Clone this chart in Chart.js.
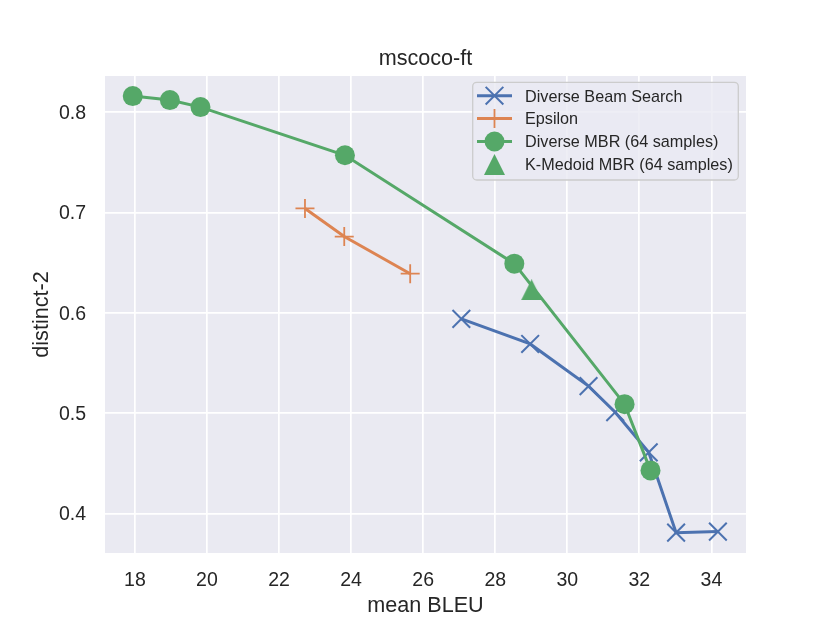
<!DOCTYPE html>
<html><head><meta charset="utf-8">
<script src="https://cdn.jsdelivr.net/npm/chart.js@4.4.1/dist/chart.umd.min.js"></script>
<style>html,body{margin:0;padding:0;background:#fff;}canvas{display:block;}</style>
</head><body>
<canvas id="c" width="830" height="623"></canvas>
<script>
// ---- data ----
const chartTitle = 'mscoco-ft';
const xLabel = 'mean BLEU';
const yLabel = 'distinct-2';
const xTicks = [18, 20, 22, 24, 26, 28, 30, 32, 34];
const yTicks = [0.4, 0.5, 0.6, 0.7, 0.8];
const seriesNames = ['Diverse Beam Search', 'Epsilon', 'Diverse MBR (64 samples)', 'K-Medoid MBR (64 samples)'];
const dbsBleu = [27.06, 28.97, 30.59, 31.33, 32.26, 33.02, 34.18];
const dbsDistinct = [0.594, 0.569, 0.527, 0.501, 0.461, 0.381, 0.382];
const epsBleu = [22.72, 23.81, 25.64];
const epsDistinct = [0.704, 0.676, 0.639];
const mbrBleu = [17.94, 18.97, 19.82, 23.83, 28.53, 31.59, 32.31];
const mbrDistinct = [0.816, 0.812, 0.805, 0.757, 0.649, 0.509, 0.443];
const kmBleu = [29.01];
const kmDistinct = [0.623];
const xRange = [17.17, 34.96];
const yRange = [0.3607, 0.836];

// ---- styles ----
const C_BLUE = '#4C72B0', C_ORANGE = '#DD8452', C_GREEN = '#55A868';
const TEXT = '#262626';
const FONT = '"Liberation Sans", Arial, Helvetica, sans-serif';

function triImg(size, color) {
  const c = document.createElement('canvas');
  c.width = size; c.height = size;
  const g = c.getContext('2d');
  g.fillStyle = color;
  g.beginPath(); g.moveTo(size / 2, 0); g.lineTo(size, size); g.lineTo(0, size); g.closePath(); g.fill();
  return c;
}
const tri = triImg(21, C_GREEN);

const pts = (xs, ys) => xs.map((x, i) => ({ x: x, y: ys[i] }));

const styles = [
  { color: C_BLUE, pointStyle: 'crossRot', radius: 12.5, pbw: 2, line: true },
  { color: C_ORANGE, pointStyle: 'cross', radius: 9.5, pbw: 1.8, line: true },
  { color: C_GREEN, pointStyle: 'circle', radius: 10, pbw: 0, line: true },
  { color: C_GREEN, pointStyle: tri, radius: 10, pbw: 0, line: false }
];
const dataPairs = [[dbsBleu, dbsDistinct], [epsBleu, epsDistinct], [mbrBleu, mbrDistinct], [kmBleu, kmDistinct]];

const datasets = dataPairs.map((p, i) => ({
  label: seriesNames[i],
  data: pts(p[0], p[1]),
  showLine: styles[i].line,
  borderColor: styles[i].color,
  backgroundColor: styles[i].color,
  borderWidth: 3,
  tension: 0,
  pointStyle: styles[i].pointStyle,
  pointRadius: styles[i].radius,
  pointHoverRadius: styles[i].radius,
  pointBorderWidth: styles[i].pbw,
  pointBorderColor: styles[i].color,
  pointBackgroundColor: styles[i].color,
  order: 3 - i,
  clip: false
}));

const bgPlugin = {
  id: 'bg',
  beforeDraw(chart) {
    const a = chart.chartArea, ctx = chart.ctx;
    ctx.save(); ctx.fillStyle = '#EAEAF2';
    ctx.fillRect(a.left, a.top, a.right - a.left, a.bottom - a.top);
    ctx.restore();
  }
};

const deco = {
  id: 'deco',
  afterDraw(chart) {
    const ctx = chart.ctx, a = chart.chartArea;
    ctx.save();
    // title
    ctx.fillStyle = TEXT;
    ctx.font = '21.6px ' + FONT;
    ctx.textAlign = 'center'; ctx.textBaseline = 'alphabetic';
    ctx.fillText(chartTitle, (a.left + a.right) / 2, 65);
    // legend
    const bx = 472.7, by = 82.3, bw = 265.6, bh = 97.7;
    ctx.beginPath();
    ctx.roundRect(bx, by, bw, bh, 4);
    ctx.fillStyle = 'rgba(234,234,242,0.8)';
    ctx.fill();
    ctx.strokeStyle = '#CCCCCC'; ctx.lineWidth = 1.3;
    ctx.stroke();
    const rowY = [95.7, 118.5, 141.5, 164.5];
    for (let i = 0; i < seriesNames.length; i++) {
      const s = styles[i], y = rowY[i];
      if (s.line) {
        ctx.beginPath(); ctx.moveTo(477, y); ctx.lineTo(512, y);
        ctx.strokeStyle = s.color; ctx.lineWidth = 3; ctx.stroke();
      }
      ctx.strokeStyle = s.color; ctx.fillStyle = s.color; ctx.lineWidth = s.pbw;
      Chart.helpers.drawPoint(ctx, { pointStyle: s.pointStyle, radius: s.radius, borderWidth: s.pbw, rotation: 0 }, 494.5, y);
      ctx.fillStyle = TEXT;
      ctx.font = '16.2px ' + FONT;
      ctx.textAlign = 'left'; ctx.textBaseline = 'alphabetic';
      ctx.fillText(seriesNames[i], 525, y + 5.8);
    }
    ctx.restore();
  }
};

new Chart(document.getElementById('c'), {
  type: 'scatter',
  data: { datasets: datasets },
  options: {
    responsive: false,
    animation: false,
    devicePixelRatio: 1,
    events: [],
    layout: { padding: { left: 0, top: 76, right: 84, bottom: 0 } },
    plugins: { legend: { display: false }, tooltip: { enabled: false }, title: { display: false } },
    scales: {
      x: {
        type: 'linear', min: xRange[0], max: xRange[1],
        afterBuildTicks(s) { s.ticks = xTicks.map(v => ({ value: v })); },
        afterFit(s) { s.height = 70; },
        grid: { color: '#FFFFFF', lineWidth: 1.7, drawTicks: false },
        border: { display: false },
        ticks: { color: TEXT, font: { family: FONT, size: 19.5 }, padding: 16, maxRotation: 0, callback: v => String(v) },
        title: { display: true, text: xLabel, color: TEXT, font: { family: FONT, size: 21.6 }, padding: { top: 0, bottom: 4 } }
      },
      y: {
        type: 'linear', min: yRange[0], max: yRange[1],
        afterBuildTicks(s) { s.ticks = yTicks.map(v => ({ value: v })); },
        afterFit(s) { s.width = 105; },
        grid: { color: '#FFFFFF', lineWidth: 1.7, drawTicks: false },
        border: { display: false },
        ticks: { color: TEXT, font: { family: FONT, size: 19.5 }, padding: 19, labelOffset: 1.5, callback: v => v.toFixed(1) },
        title: { display: true, text: yLabel, color: TEXT, font: { family: FONT, size: 21.6 }, padding: { top: 29, bottom: 0 } }
      }
    }
  },
  plugins: [bgPlugin, deco]
});
</script>
</body></html>
